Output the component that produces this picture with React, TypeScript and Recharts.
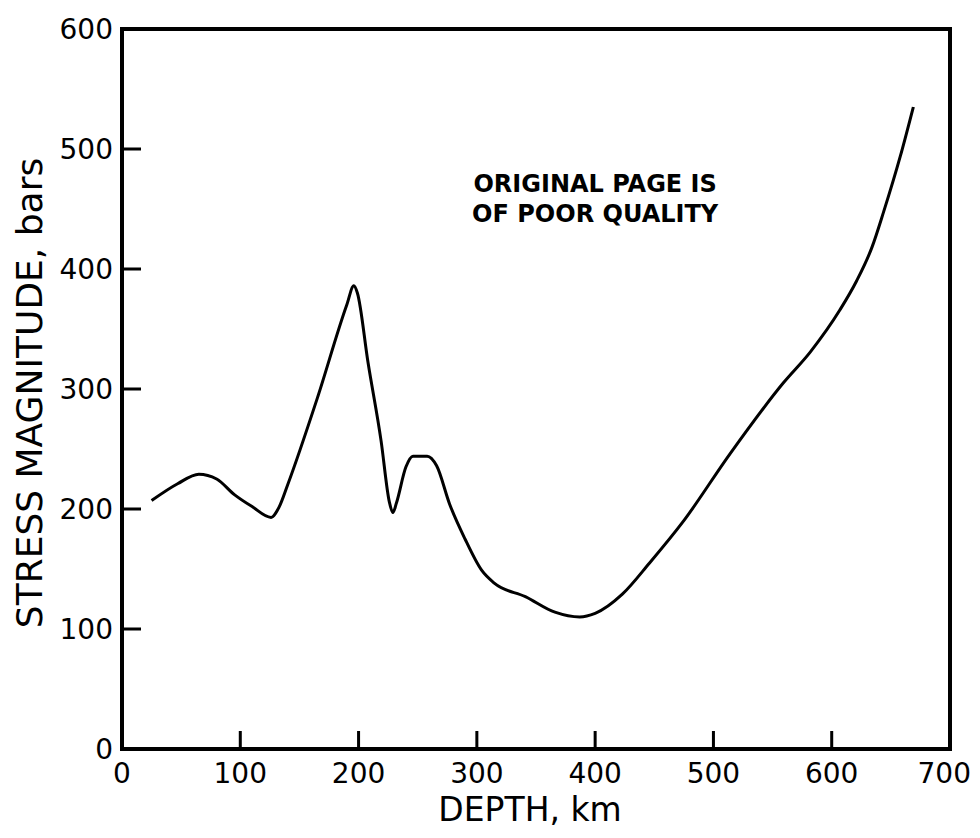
import React from 'react';
import { LineChart, Line, XAxis, YAxis, ReferenceLine, ReferenceDot } from 'recharts';

const depthKm = [25, 47, 65, 80, 95, 110, 126, 133, 140, 165, 190, 196, 199, 208, 219, 226, 229, 232, 240, 246, 258, 266, 277, 290, 304, 315, 341, 366, 387, 400, 423, 446, 474, 514, 559, 582, 607, 621, 634, 644, 658, 669];
const stressBars = [207, 221, 229, 225, 212, 202, 193, 202, 220, 292, 370, 386, 380, 322, 257, 206, 197, 205, 235, 244, 244, 236, 204, 175, 149, 138, 127, 114, 110, 113, 129, 155, 189, 246, 305, 331, 366, 390, 418, 448, 494, 535];
const xTicks = [0, 100, 200, 300, 400, 500, 600, 700];
const yTicks = [0, 100, 200, 300, 400, 500, 600];
const xLabel = 'DEPTH, km';
const yLabel = 'STRESS MAGNITUDE, bars';
const stampLines = ['ORIGINAL PAGE IS', 'OF POOR QUALITY'];

const data = depthKm.map((d, i) => ({ depth: d, stress: stressBars[i] }));

const FONT = '"DejaVu Sans", sans-serif';

const XTick = (props: any) => {
  const { x, y, payload } = props;
  const last = payload.value === xTicks[xTicks.length - 1];
  return (
    <g>
      <rect x={x - 1.5} y={y - 30} width={3} height={19} fill="#000" />
      <text
        x={last ? x + 21 : x}
        y={y}
        dy="0.78em"
        textAnchor={last ? 'end' : 'middle'}
        fontSize={28}
        fontFamily={FONT}
        fill="#000"
      >
        {payload.value}
      </text>
    </g>
  );
};

const YTick = (props: any) => {
  const { x, y, payload } = props;
  return (
    <g>
      <rect x={x + 9} y={y - 1.5} width={19} height={3} fill="#000" />
      <text x={x} y={y} dy="0.36em" textAnchor="end" fontSize={28} fontFamily={FONT} fill="#000">
        {payload.value}
      </text>
    </g>
  );
};

const XAxisLabel = (props: any) => {
  const vb = props.viewBox || { x: 114, y: 741, width: 828, height: 81 };
  return (
    <text x={vb.x + vb.width / 2 - 6} y={vb.y + 60} dy="0.36em" textAnchor="middle" fontSize={33} fontFamily={FONT} fill="#000">
      {xLabel}
    </text>
  );
};

const YAxisLabel = (props: any) => {
  const vb = props.viewBox || { x: 0, y: 21, width: 114, height: 720 };
  const cx = vb.x + 21;
  const cy = vb.y + vb.height / 2 + 4;
  return (
    <text x={cx} y={cy} dy="0.36em" textAnchor="middle" fontSize={36} fontFamily={FONT} fill="#000" transform={`rotate(-90, ${cx}, ${cy})`}>
      {yLabel}
    </text>
  );
};

const StampLabel = (props: any) => {
  const vb = props.viewBox || { x: 0, y: 0 };
  const cx = vb.x + (vb.width || 0) / 2;
  const cy = vb.y + (vb.height || 0) / 2;
  return (
    <g>
      {stampLines.map((s, i) => (
        <text key={i} x={cx} y={cy + i * 30} dy="0.36em" textAnchor="middle" fontSize={24} fontWeight="bold" fontFamily={FONT} fill="#000">
          {s}
        </text>
      ))}
    </g>
  );
};

export default function App() {
  return (
    <div style={{ width: 964, height: 822, background: '#fff' }}>
      <style>{'svg.recharts-surface{overflow:visible;display:block}'}</style>
      <LineChart width={964} height={822} data={data} margin={{ top: 21, right: 22, bottom: 0, left: 0 }}>
        <XAxis
          dataKey="depth"
          type="number"
          domain={[0, 700]}
          ticks={xTicks}
          interval={0}
          tickLine={{ stroke: 'none' }}
          tickSize={10}
          tickMargin={2}
          axisLine={{ stroke: '#000', strokeWidth: 4, strokeLinecap: 'square' }}
          tick={<XTick />}
          height={81}
          label={<XAxisLabel />}
        />
        <YAxis
          type="number"
          domain={[0, 600]}
          ticks={yTicks}
          interval={0}
          tickLine={{ stroke: 'none' }}
          tickSize={5}
          tickMargin={4}
          axisLine={{ stroke: '#000', strokeWidth: 4, strokeLinecap: 'square' }}
          tick={<YTick />}
          width={114}
          label={<YAxisLabel />}
        />
        <ReferenceLine y={600} stroke="#000" strokeWidth={4} strokeLinecap="square" />
        <ReferenceLine x={700} stroke="#000" strokeWidth={4} strokeLinecap="square" />
        <ReferenceDot x={400} y={471} r={0} fill="none" stroke="none" label={<StampLabel />} />
        <Line
          type="monotone"
          dataKey="stress"
          stroke="#000"
          strokeWidth={3}
          dot={false}
          isAnimationActive={false}
        />
      </LineChart>
    </div>
  );
}
